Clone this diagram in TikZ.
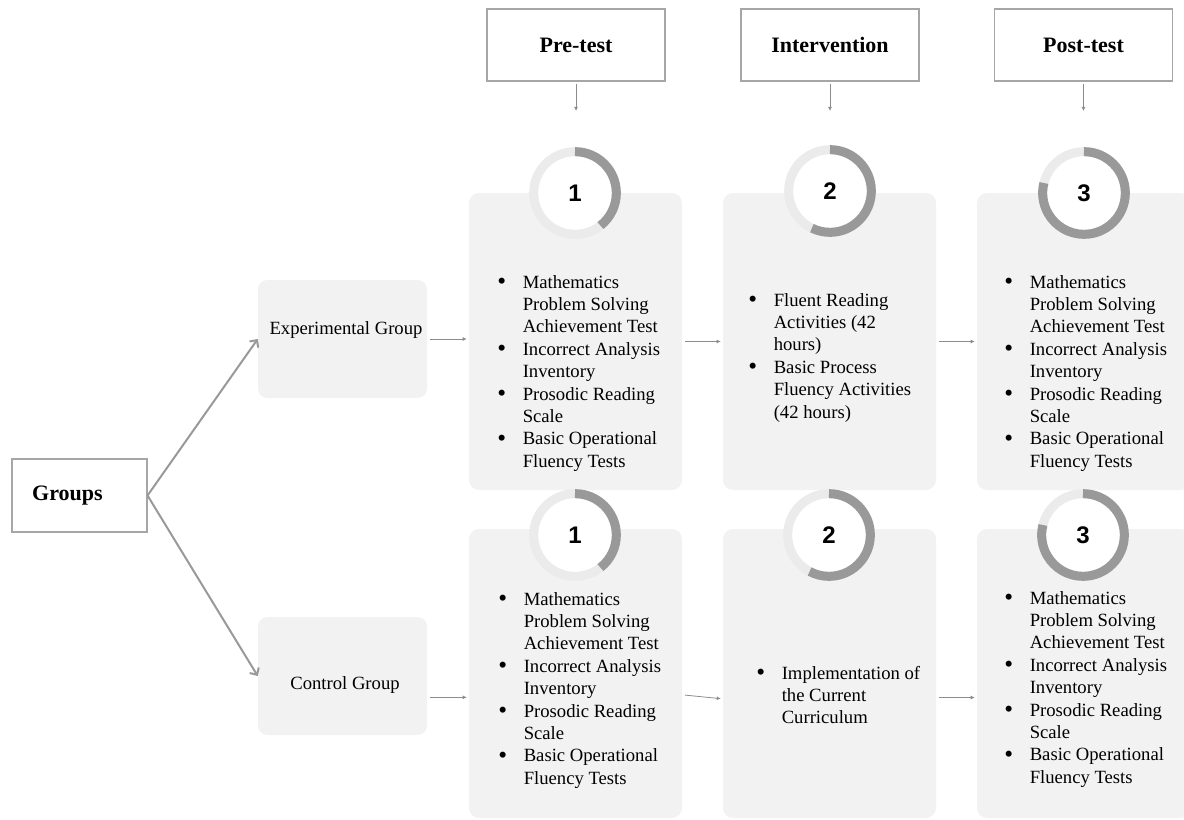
\documentclass[tikz,border=0pt]{standalone}
\usepackage{fontspec}
\usepackage{graphicx}
\setmainfont{Liberation Serif}
\newfontfamily\numfont{Liberation Sans}
\usetikzlibrary{arrows.meta}

% bullet list with fixed line breaks
\newcommand{\bul}{\raisebox{-1.2pt}{\scalebox{1.35}{\textbullet}}}
\newcommand{\blist}[1]{\begin{tabular}[t]{@{}c@{\hspace{12.5pt}}l@{}}#1\end{tabular}}

\begin{document}
\begin{tikzpicture}[x=0.75pt, y=-0.75pt,
    hdrbox/.style={draw=black!35, fill=white, line width=0.8pt, minimum width=133.5pt, minimum height=54pt, font=\bfseries\fontsize{16.5}{19}\selectfont},
    grpbox/.style={fill=black!5, rounded corners=7pt, minimum width=126.75pt, minimum height=88.5pt},
    panel/.style={fill=black!5, rounded corners=7.5pt, minimum width=159.75pt},
    bodytxt/.style={font=\fontsize{14}{16.8}\selectfont, inner sep=0pt},
    numtxt/.style={font=\numfont\bfseries\fontsize{18}{20}\selectfont},
    bigarrow/.style={draw=black!40, line width=1.5pt, -{Straight Barb[length=4pt,width=8pt]}},
    smallarrow/.style={draw=black!45, line width=0.6pt, -{Latex[length=3pt,width=3pt]}, shorten <=2pt, shorten >=1.5pt},
    ringbg/.style={draw=black!8, line width=6.75pt},
    ringfg/.style={draw=black!40, line width=6.75pt}]

    \useasboundingbox (0,0) rectangle (1184,820);
    \clip (0,0) rectangle (1184,820);

    % phase headers
    \node[hdrbox] (pre) at (576,45) {Pre-test};
    \node[hdrbox] (intv) at (830,45) {Intervention};
    \node[hdrbox] (post) at (1083.5,45) {Post-test};
    \coordinate (pre-in) at (576,113);
    \coordinate (intv-in) at (830,113);
    \coordinate (post-in) at (1083.5,113);
    \draw[smallarrow] (pre) -- (pre-in);
    \draw[smallarrow] (intv) -- (intv-in);
    \draw[smallarrow] (post) -- (post-in);

    % groups
    \node[draw=black!35, fill=white, line width=0.8pt, minimum width=101.25pt, minimum height=54.75pt, text width=71pt, inner xsep=15pt, align=left, font=\bfseries\fontsize{16.5}{19}\selectfont] (grp) at (79.5,495.5) {Groups};
    \node[grpbox] (exp) at (342.5,339) {};
    \node[bodytxt] (explbl) at (346,330) {Experimental Group};
    \node[grpbox] (ctrl) at (342.5,676) {};
    \node[bodytxt] (ctrllbl) at (345,685) {Control Group};

    % panels
    \node[panel, minimum height=222.75pt] (p1t) at (575.5,341.5) {};
    \node[panel, minimum height=222.75pt] (p2t) at (829.5,341.5) {};
    \node[panel, minimum height=222.75pt] (p3t) at (1083.5,341.5) {};
    \node[panel, minimum height=216.75pt] (p1b) at (575.5,673.5) {};
    \node[panel, minimum height=216.75pt] (p2b) at (829.5,673.5) {};
    \node[panel, minimum height=216.75pt] (p3b) at (1083.5,673.5) {};

    % step rings
    \foreach \cx/\cy/\ang/\num/\nm in {575/193/-52/1/n1t, 830/191/-116/2/n2t, 1084/193/-194/3/n3t,
                                      575/535/-52/1/n1b, 829/535/-118/2/n2b, 1083/535/-194/3/n3b}{
        \fill[white] (\cx,\cy) circle (31pt);
        \draw[ringbg] (\cx,\cy) circle (31pt);
        \draw[ringfg] ([shift={(90:31pt)}]\cx,\cy) arc[start angle=90, end angle=\ang, radius=31pt];
        \node[numtxt] (\nm) at (\cx,\cy) {\num};
    }

    % lists
    \node[bodytxt, anchor=base west] (l1t) at (497,288) {\blist{%
        \bul & Mathematics\\ & Problem Solving\\ & Achievement Test\\
        \bul & Incorrect Analysis\\ & Inventory\\
        \bul & Prosodic Reading\\ & Scale\\
        \bul & Basic Operational\\ & Fluency Tests}};
    \node[bodytxt, anchor=base west] (l2t) at (748,306) {\blist{%
        \bul & Fluent Reading\\ & Activities (42\\ & hours)\\
        \bul & Basic Process\\ & Fluency Activities\\ & (42 hours)}};
    \node[bodytxt, anchor=base west] (l3t) at (1004,288) {\blist{%
        \bul & Mathematics\\ & Problem Solving\\ & Achievement Test\\
        \bul & Incorrect Analysis\\ & Inventory\\
        \bul & Prosodic Reading\\ & Scale\\
        \bul & Basic Operational\\ & Fluency Tests}};
    \node[bodytxt, anchor=base west] (l1b) at (498,605) {\blist{%
        \bul & Mathematics\\ & Problem Solving\\ & Achievement Test\\
        \bul & Incorrect Analysis\\ & Inventory\\
        \bul & Prosodic Reading\\ & Scale\\
        \bul & Basic Operational\\ & Fluency Tests}};
    \node[bodytxt, anchor=base west] (l2b) at (756,679) {\blist{%
        \bul & Implementation of\\ & the Current\\ & Curriculum}};
    \node[bodytxt, anchor=base west] (l3b) at (1004,604) {\blist{%
        \bul & Mathematics\\ & Problem Solving\\ & Achievement Test\\
        \bul & Incorrect Analysis\\ & Inventory\\
        \bul & Prosodic Reading\\ & Scale\\
        \bul & Basic Operational\\ & Fluency Tests}};

    % connectors
    \draw[bigarrow] (grp.east) -- (exp.west);
    \draw[bigarrow] (grp.east) -- (ctrl.west);
    \draw[smallarrow] (exp.east) -- (exp.east -| p1t.west);
    \draw[smallarrow] (p1t) -- (p2t);
    \draw[smallarrow] (p2t) -- (p3t);
    \draw[smallarrow] ([yshift=-16pt]ctrl.east) -- ([yshift=-16pt]ctrl.east -| p1b.west);
    \draw[smallarrow] ([yshift=-16pt]p1b.east) -- ([yshift=-19pt]p2b.west);
    \draw[smallarrow] ([yshift=-18pt]p2b.east) -- ([yshift=-18pt]p3b.west);
\end{tikzpicture}
\end{document}
